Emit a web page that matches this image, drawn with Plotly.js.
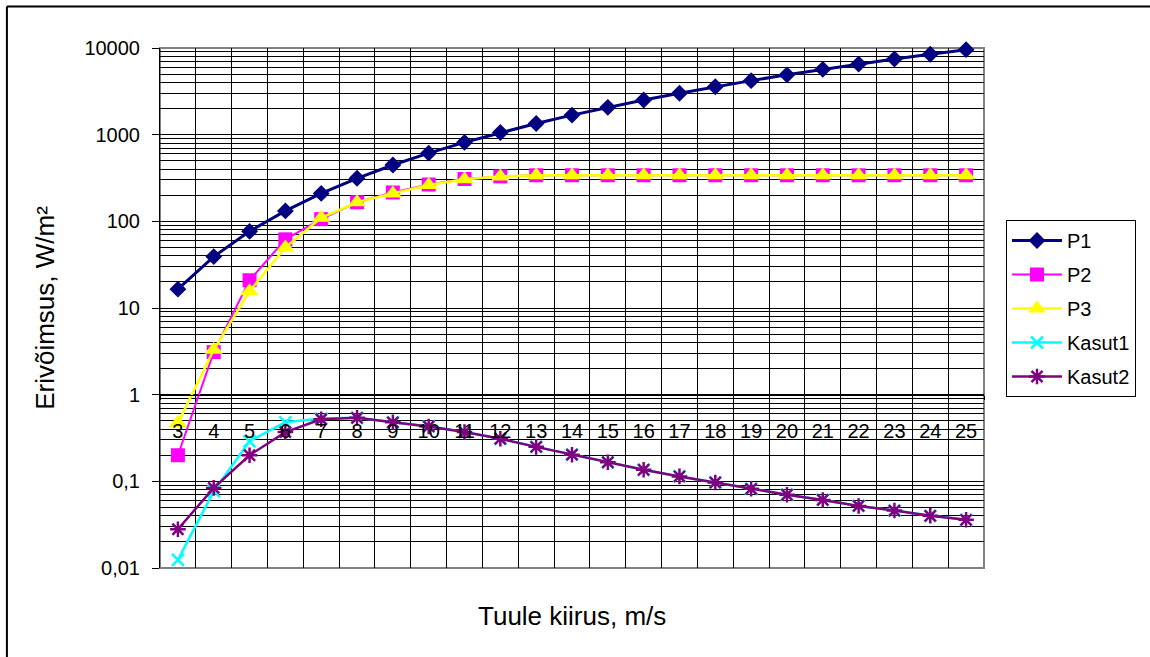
<!DOCTYPE html>
<html>
<head>
<meta charset="utf-8">
<script src="https://cdn.plot.ly/plotly-3.0.1.min.js"></script>
<style>html,body{margin:0;padding:0;background:#fff;}#chart{width:1150px;height:657px;}</style>
</head>
<body>
<div id="chart"></div>
<script>
// Wind speed categories (m/s)
const speeds = [3,4,5,6,7,8,9,10,11,12,13,14,15,16,17,18,19,20,21,22,23,24,25];
// Series values (W/m² and ratios)
const P1 = [16.5, 39.2, 76.6, 132, 210, 314, 447, 613, 815, 1058, 1346, 1681, 2067, 2509, 3009, 3572, 4201, 4900, 5672, 6522, 7452, 8467, 9570];
const P2 = [0.2, 3.1, 20.9, 62, 106, 166, 215, 266, 308, 330, 340, 340, 340, 340, 340, 340, 340, 340, 340, 340, 340, 340, 340];
const P3 = [0.47, 3.3, 15.6, 50, 110, 166, 210, 262, 305, 330, 340, 340, 340, 340, 340, 340, 340, 340, 340, 340, 340, 340, 340];
const Kasut1 = [0.0124, 0.077, 0.29, 0.48, 0.53, 0.54, 0.48, 0.43, 0.37, 0.31, 0.25, 0.203, 0.166, 0.136, 0.114, 0.097, 0.082, 0.070, 0.061, 0.052, 0.046, 0.040, 0.036];
const Kasut2 = [0.028, 0.084, 0.20, 0.37, 0.52, 0.54, 0.48, 0.43, 0.37, 0.31, 0.25, 0.203, 0.166, 0.136, 0.114, 0.097, 0.082, 0.070, 0.061, 0.052, 0.046, 0.040, 0.036];
// Axis tick labels
const yTickVals = [0.01, 0.1, 1, 10, 100, 1000, 10000];
const yTickText = ['0,01', '0,1', '1', '10', '100', '1000', '10000'];
const seriesNames = ['P1', 'P2', 'P3', 'Kasut1', 'Kasut2'];

const FONT = 'Liberation Sans, Arial, Helvetica, sans-serif';

const minorVals = [];
for (let d = -2; d < 4; d++) {
  for (let m = 2; m <= 9; m++) minorVals.push(m * Math.pow(10, d));
}

function tr(name, y, color, lw, symbol, msize, mline) {
  const marker = {symbol: symbol, size: msize, color: color};
  if (mline) marker.line = {color: color, width: mline};
  return {
    type: 'scatter', mode: 'lines+markers', name: name, legendgroup: name,
    x: speeds, y: y, line: {color: color, width: lw}, marker: marker, cliponaxis: false
  };
}

const data = [
  tr(seriesNames[0], P1, '#000080', 3, 'diamond', 13),
  tr(seriesNames[1], P2, '#FF00FF', 2, 'square', 14),
  tr(seriesNames[2], P3, '#FFFF00', 2.5, 'triangle-up', 16),
  tr(seriesNames[3], Kasut1, '#00FFFF', 2.5, 'x-thin-open', 12, 2.5),
  tr(seriesNames[4], Kasut2, '#800080', 2.5, 'asterisk-open', 13, 2.5)
];

// paper coords helpers (plot area: x 160.5..984, y 48..568)
const px = v => (v - 160.5) / 823.5;
const py = v => (568 - v) / 520;

const layout = {
  width: 1150, height: 657,
  margin: {l: 160, r: 166, t: 48, b: 89, pad: 0, autoexpand: false},
  paper_bgcolor: '#fff', plot_bgcolor: '#fff',
  font: {family: FONT, size: 20, color: '#000'},
  showlegend: true,
  xaxis: {
    type: 'category', anchor: 'free', position: 1/3, range: [-0.5, 22.5],
    showline: true, linecolor: '#000', linewidth: 1,
    ticks: 'outside', tickson: 'boundaries', ticklen: 4, tickcolor: '#000', tickwidth: 1,
    showgrid: true, gridcolor: '#000', gridwidth: 1, zeroline: false,
    ticklabelstandoff: 18, tickfont: {size: 20, family: FONT}, fixedrange: true
  },
  yaxis: {
    type: 'log', range: [-2, 4], tickmode: 'array', tickvals: yTickVals, ticktext: yTickText,
    ticks: 'outside', ticklen: 7, tickcolor: '#000', tickwidth: 1,
    showline: true, linecolor: '#000', linewidth: 1,
    showgrid: true, gridcolor: '#000', gridwidth: 1, zeroline: false,
    minor: {tickmode: 'array', tickvals: minorVals, showgrid: true, gridcolor: '#000', gridwidth: 1, ticks: ''},
    ticklabelstandoff: 8, tickfont: {size: 20, family: FONT},
    title: {text: 'Erivõimsus, W/m²', font: {size: 26, family: FONT}, standoff: 22},
    fixedrange: true
  },
  legend: {
    x: px(1006), xanchor: 'left', y: py(220), yanchor: 'top',
    bordercolor: '#000', borderwidth: 1, bgcolor: '#fff',
    font: {size: 20, family: FONT}, tracegroupgap: 5, itemwidth: 50
  },
  shapes: [
    {type: 'rect', xref: 'paper', yref: 'paper', x0: 0, x1: 1, y0: 0, y1: 1,
     line: {color: '#808080', width: 2}, layer: 'between'},
    {type: 'line', xref: 'paper', yref: 'paper', x0: px(7.5), x1: px(1150), y0: py(6.5), y1: py(6.5),
     line: {color: '#000', width: 2}},
    {type: 'line', xref: 'paper', yref: 'paper', x0: px(7.5), x1: px(7.5), y0: py(6.5), y1: py(657),
     line: {color: '#000', width: 2}}
  ],
  annotations: [
    {xref: 'paper', yref: 'paper', x: px(572), y: py(616), text: 'Tuule kiirus, m/s',
     showarrow: false, xanchor: 'center', yanchor: 'middle', font: {size: 26, family: FONT}}
  ]
};

Plotly.newPlot('chart', data, layout, {displayModeBar: false, staticPlot: true});
</script>
</body>
</html>
